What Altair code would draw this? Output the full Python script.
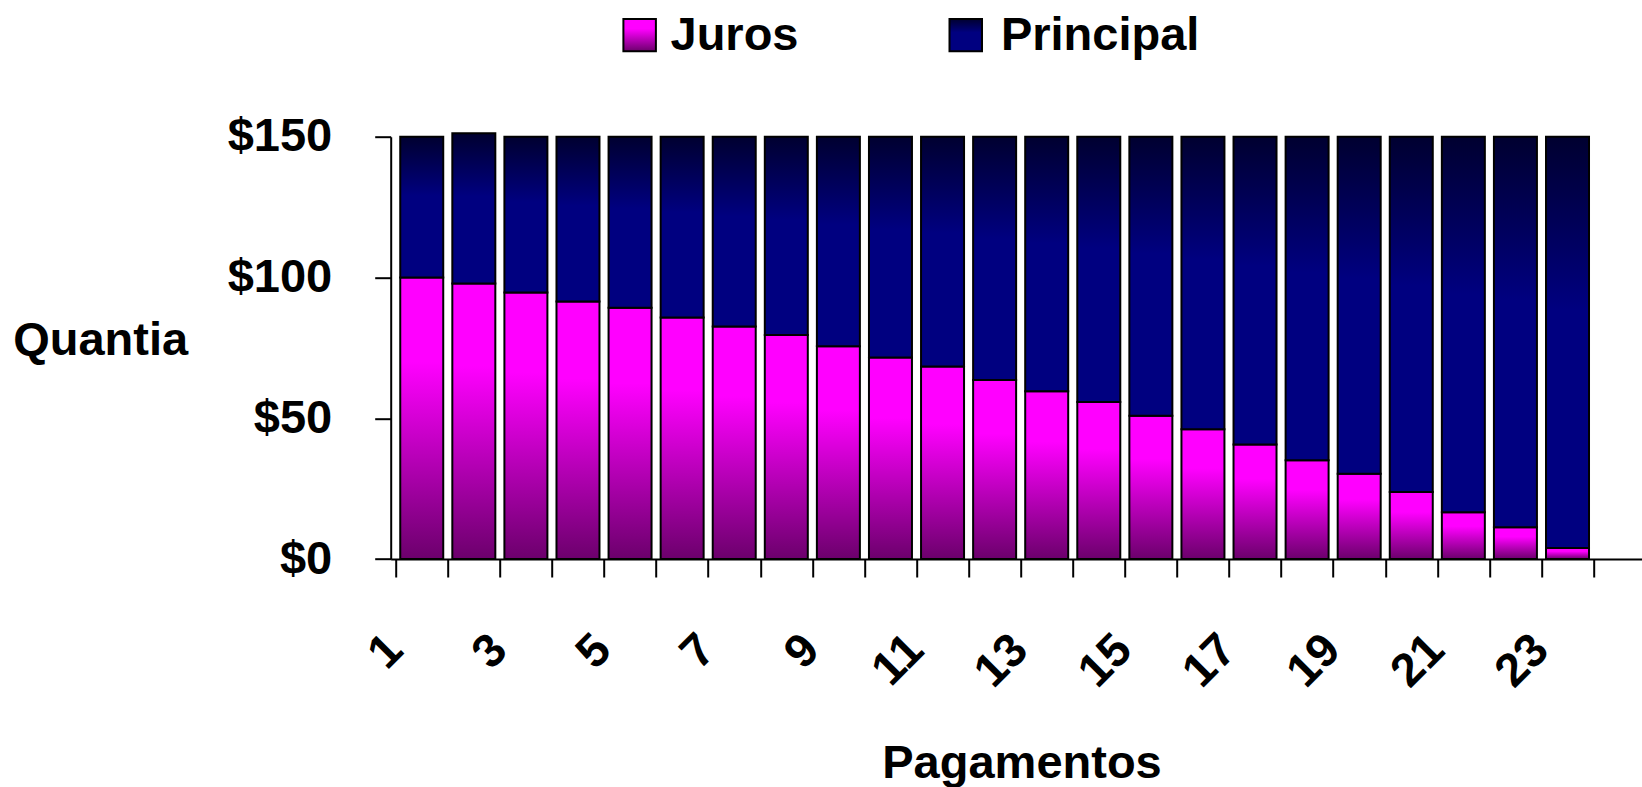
import json
import altair as alt
import pandas as pd

# ---- data ----
pagamentos = list(range(1, 24))
juros = [100.0, 97.9, 94.7, 91.5, 89.2, 85.8, 82.6, 79.6, 75.6, 71.6, 68.4, 63.6,
         59.6, 55.8, 50.9, 46.1, 40.7, 35.1, 30.3, 23.8, 16.6, 11.3, 3.9]
principal = [50.0, 53.3, 55.3, 58.5, 60.8, 64.2, 67.4, 70.4, 74.4, 78.4, 81.6, 86.4,
             90.4, 94.2, 99.1, 103.9, 109.3, 114.9, 119.7, 126.2, 133.4, 138.7, 146.1]
x_tick_labels = ["1", "", "3", "", "5", "", "7", "", "9", "", "11", "", "13", "",
                 "15", "", "17", "", "19", "", "21", "", "23", ""]
y_ticks = [0, 50, 100, 150]
legend_labels = ["Juros", "Principal"]

df = pd.DataFrame({"pagamento": pagamentos, "juros": juros, "principal": principal})
df["total"] = df["juros"] + df["principal"]

FONT = "Liberation Sans"
FS = 47
W, H = 1251.3, 422.3
STEP = 52.5

juros_grad = alt.LinearGradient(
    gradient="linear",
    stops=[alt.GradientStop(color="#FF00FF", offset=0),
           alt.GradientStop(color="#FF00FF", offset=0.3),
           alt.GradientStop(color="#6C006C", offset=1)],
    x1=0, x2=0, y1=0, y2=1)
principal_grad = alt.LinearGradient(
    gradient="linear",
    stops=[alt.GradientStop(color="#000030", offset=0),
           alt.GradientStop(color="#000080", offset=0.42),
           alt.GradientStop(color="#000080", offset=1)],
    x1=0, x2=0, y1=0, y2=1)

label_expr = json.dumps(x_tick_labels) + "[round(datum.value - 0.5)]"

x_enc = alt.X(
    "pagamento:Q",
    scale=alt.Scale(domain=[0.5, 0.5 + W / STEP], nice=False, zero=False),
    axis=alt.Axis(
        values=[i + 0.5 for i in range(len(x_tick_labels))],
        labelExpr=label_expr,
        labelAngle=315, labelAlign="right", labelBaseline="alphabetic",
        labelOffset=9, labelPadding=75, tickSize=18,
        labelOverlap=False, labelFlush=False, labelBound=False,
        title="Pagamentos", titleAngle=0, titleAlign="center",
        titleBaseline="alphabetic", titleX=630.8, titleY=218,
    ),
)
y_enc = alt.Y(
    "juros:Q",
    scale=alt.Scale(domain=[0, 150], nice=False),
    axis=alt.Axis(
        values=y_ticks, format="$.0f", tickSize=16, labelPadding=43,
        labelAlign="right", labelBaseline="middle",
        title="Quantia", titleAngle=0, titleAlign="left",
        titleBaseline="alphabetic", titleX=-378, titleY=218,
    ),
)

juros_bars = alt.Chart(df).mark_bar(
    fill=juros_grad, stroke="black", strokeWidth=2, width=43
).encode(x=x_enc, y=y_enc)

principal_bars = alt.Chart(df).mark_bar(
    fill=principal_grad, stroke="black", strokeWidth=2, width=43
).encode(x=x_enc, y=y_enc, y2="total:Q")

leg_j = pd.DataFrame({"label": [legend_labels[0]]})
leg_p = pd.DataFrame({"label": [legend_labels[1]]})

leg_j_box = alt.Chart(leg_j).mark_rect(fill=juros_grad, stroke="black", strokeWidth=2).encode(
    x=alt.value(232.7), x2=alt.value(265.2), y=alt.value(-117.7), y2=alt.value(-85.4))
leg_p_box = alt.Chart(leg_p).mark_rect(fill=principal_grad, stroke="black", strokeWidth=2).encode(
    x=alt.value(558.8), x2=alt.value(591.3), y=alt.value(-117.7), y2=alt.value(-85.4))
leg_j_txt = alt.Chart(leg_j).mark_text(
    align="left", baseline="alphabetic", font=FONT, fontSize=FS, fontWeight="bold", color="black"
).encode(text="label:N", x=alt.value(279.8), y=alt.value(-87))
leg_p_txt = alt.Chart(leg_p).mark_text(
    align="left", baseline="alphabetic", font=FONT, fontSize=FS, fontWeight="bold", color="black"
).encode(text="label:N", x=alt.value(610.2), y=alt.value(-87))

chart = alt.layer(
    juros_bars, principal_bars, leg_j_box, leg_p_box, leg_j_txt, leg_p_txt
).properties(
    width=W, height=H,
    padding={"left": 390.7, "top": 136.7, "right": 0, "bottom": 228},
    autosize=alt.AutoSizeParams(type="none"),
    background="white",
).configure_view(
    strokeWidth=0
).configure_axis(
    grid=False,
    domainColor="black", domainWidth=2,
    tickColor="black", tickWidth=2,
    labelFont=FONT, labelFontSize=FS, labelFontWeight="bold", labelColor="black",
    titleFont=FONT, titleFontSize=FS, titleFontWeight="bold", titleColor="black",
)

chart.save("out.html", embed_options={"renderer": "svg", "actions": False})
